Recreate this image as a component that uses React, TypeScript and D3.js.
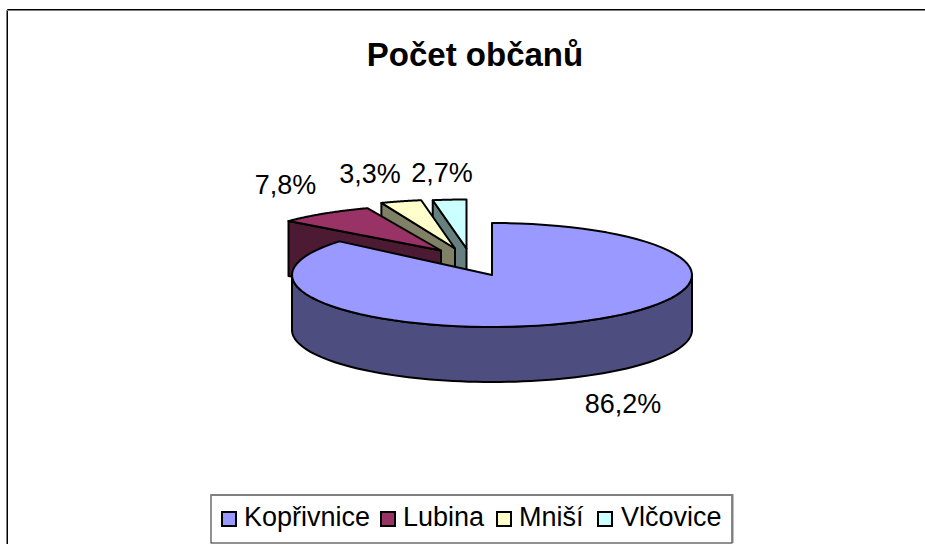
import React from "react";
import * as d3 from "d3";

const categories = ["Kopřivnice", "Lubina", "Mniší", "Vlčovice"];
const values = [86.2, 7.8, 3.3, 2.7];
const labels = ["86,2%", "7,8%", "3,3%", "2,7%"];
const topColors = ["#9999FF", "#993366", "#FFFFCC", "#CCFFFF"];
const sideColors = ["#4D4D80", "#4D1A33", "#808066", "#668080"];
const title = "Počet občanů";

const FONT = "'Liberation Sans', Arial, sans-serif";
const cx = 492, cy = 275, rx = 200, ry = 52, depth = 55;
// explosion of each slice: tip offset and vertical radius
const tipDx = [0, -51, -37, -25.5];
const tipDy = [0, -24.5, -26.5, -26.5];
const sliceRy = [ry, 45.5, 49, 49];
const labelX = [623, 285.5, 370, 442];
const labelY = [413, 194, 183, 182];
const legendSwatchX = [222, 381, 497, 598];
const legendTextX = [244, 403, 519, 621];

const arcs = d3.pie<number>().sort(null)(values);
const angle = d3.scaleLinear().domain([0, 2 * Math.PI]).range([0, 2 * Math.PI]);

function rim(a0: number, a1: number, x: number, y: number, r: number, dy = 0) {
  const n = 80;
  return d3.range(n + 1).map((i) => {
    const a = angle(a0 + ((a1 - a0) * i) / n);
    return [x + rx * Math.sin(a), y - r * Math.cos(a) + dy] as [number, number];
  });
}
const line = d3.line();
const closed = (p: [number, number][]) => line(p)! + "Z";

export default function App() {
  const stroke = { stroke: "#000", strokeWidth: 2, strokeLinejoin: "round" as const };
  return (
    <svg width={925} height={544} style={{ position: "absolute", left: 0, top: 0, background: "#fff" }}>
      <path d="M7.5 544V9.5H925" fill="none" stroke="#000" strokeWidth={1} />
      <path d="M6.5 544V10.5H925" fill="none" stroke="#808080" strokeWidth={1} />
      <text x={475} y={66} textAnchor="middle" fontFamily={FONT} fontWeight={700} fontSize={33} fill="#000">{title}</text>

      {[3, 2, 1].map((i) => {
        const a = arcs[i];
        const x = cx + tipDx[i], y = cy + tipDy[i], r = sliceRy[i];
        const s = rim(a.startAngle, a.startAngle, x, y, r)[0];
        return (
          <g key={categories[i]}>
            <path d={closed([[x, y], s, [s[0], s[1] + depth], [x, y + depth]])} fill={sideColors[i]} {...stroke} />
            <path d={closed([[x, y], ...rim(a.startAngle, a.endAngle, x, y, r)])} fill={topColors[i]} {...stroke} />
          </g>
        );
      })}

      <path
        d={closed([...rim(Math.PI / 2, (3 * Math.PI) / 2, cx, cy, ry), ...rim((3 * Math.PI) / 2, Math.PI / 2, cx, cy, ry, depth)])}
        fill={sideColors[0]}
        {...stroke}
      />
      <path d={closed([[cx, cy], ...rim(arcs[0].startAngle, arcs[0].endAngle, cx, cy, ry)])} fill={topColors[0]} {...stroke} />

      {labels.map((t, i) => (
        <text key={t} x={labelX[i]} y={labelY[i]} textAnchor="middle" fontFamily={FONT} fontSize={27} fill="#000">{t}</text>
      ))}

      <rect x={211} y={495} width={521} height={48} fill="#fff" stroke="#222" strokeWidth={1} />
      <path d="M210.5 495H732.5V543" fill="none" stroke="#808080" strokeWidth={2} />
      {categories.map((c, i) => (
        <g key={c}>
          <rect x={legendSwatchX[i]} y={512} width={14} height={14} fill={topColors[i]} stroke="#000" strokeWidth={2} />
          <text x={legendTextX[i]} y={526} fontFamily={FONT} fontSize={27} fill="#000">{c}</text>
        </g>
      ))}
    </svg>
  );
}
